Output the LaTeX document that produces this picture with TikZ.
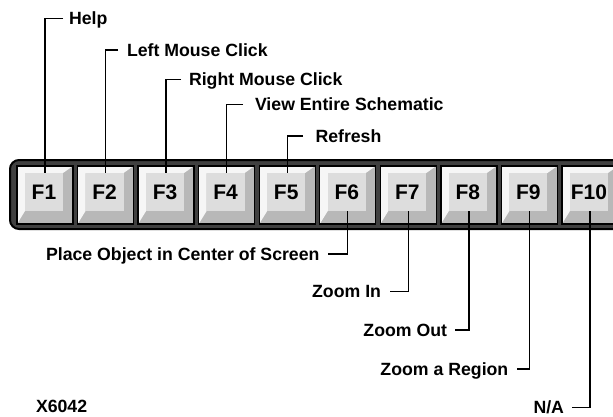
\documentclass[tikz,border=0pt]{standalone}
\usepackage{fontspec}
\setmainfont{Liberation Sans}
\definecolor{barfill}{HTML}{404040}
\definecolor{keyside}{HTML}{B8B8B8}
\definecolor{keylight}{HTML}{F6F6F6}
\definecolor{keyface}{HTML}{DDDDDD}
\begin{document}
\begin{tikzpicture}[x=1pt,y=-1pt,
  lbl/.style={font=\fontsize{17.7}{20}\selectfont\bfseries, inner sep=0pt, outer sep=0pt, text height=12.7pt, text depth=0pt},
  keytxt/.style={font=\fontsize{21}{24}\selectfont\bfseries, inner sep=0pt, text height=15pt, text depth=0pt},
  leader/.style={draw=black, line width=1.3pt},
  keyedge/.style={draw=black, line width=1.4pt}]
\useasboundingbox (0,0) rectangle (613,417);
\clip (0,0) rectangle (613,417);
% key bar
\draw[line width=2pt, fill=barfill, rounded corners=9pt] (10,160) rectangle (660,229);
% keys
\foreach \i in {1,...,10} {
  \pgfmathsetmacro\L{17+60.55*(\i-1)}
  \fill[keyside] (\L,166) rectangle (\L+56,224);
  \fill[keylight] (\L,224) -- (\L,166) -- (\L+56,166) -- (\L+46,173) -- (\L+8,173) -- (\L+8,211) -- cycle;
  \fill[keyface] (\L+8,173) rectangle (\L+46,211);
  \draw[keyedge] (\L,166) rectangle (\L+56,224);
  \node[keytxt] (k\i) at (\L+27,192.2) {F\i};
  \coordinate (k\i t) at (\L+28,173);
  \coordinate (k\i b) at (\L+28,211);
}
% top labels
\node[lbl, anchor=west] (help) at (69,18.5) {Help};
\node[lbl, anchor=west] (lmc) at (127,50) {Left Mouse Click};
\node[lbl, anchor=west] (rmc) at (189,79.5) {Right Mouse Click};
\node[lbl, anchor=west] (ves) at (255,104.5) {View Entire Schematic};
\node[lbl, anchor=west] (ref) at (315.5,136) {Refresh};
\draw[leader] ([xshift=-6pt]help.west) -| (k1t);
\draw[leader] ([xshift=-9pt]lmc.west) -| (k2t);
\draw[leader] ([xshift=-8pt]rmc.west) -| (k3t);
\draw[leader] ([xshift=-12pt]ves.west) -| (k4t);
\draw[leader] ([xshift=-12.5pt]ref.west) -| (k5t);
% bottom labels
\node[lbl, anchor=east] (poc) at (319.5,254) {Place Object in Center of Screen};
\node[lbl, anchor=east] (zin) at (381,291.5) {Zoom In};
\node[lbl, anchor=east] (zout) at (447,330) {Zoom Out};
\node[lbl, anchor=east] (zreg) at (508.3,369) {Zoom a Region};
\node[lbl, anchor=east] (na) at (564,407.5) {N/A};
\draw[leader] ([xshift=8.5pt]poc.east) -| (k6b);
\draw[leader] ([xshift=9pt]zin.east) -| (k7b);
\draw[leader] ([xshift=8pt]zout.east) -| (k8b);
\draw[leader] ([xshift=8.7pt]zreg.east) -| (k9b);
\draw[leader] ([xshift=8pt]na.east) -| (k10b);
% figure number
\node[lbl, anchor=west] (fig) at (36,406) {X6042};
\end{tikzpicture}
\end{document}
